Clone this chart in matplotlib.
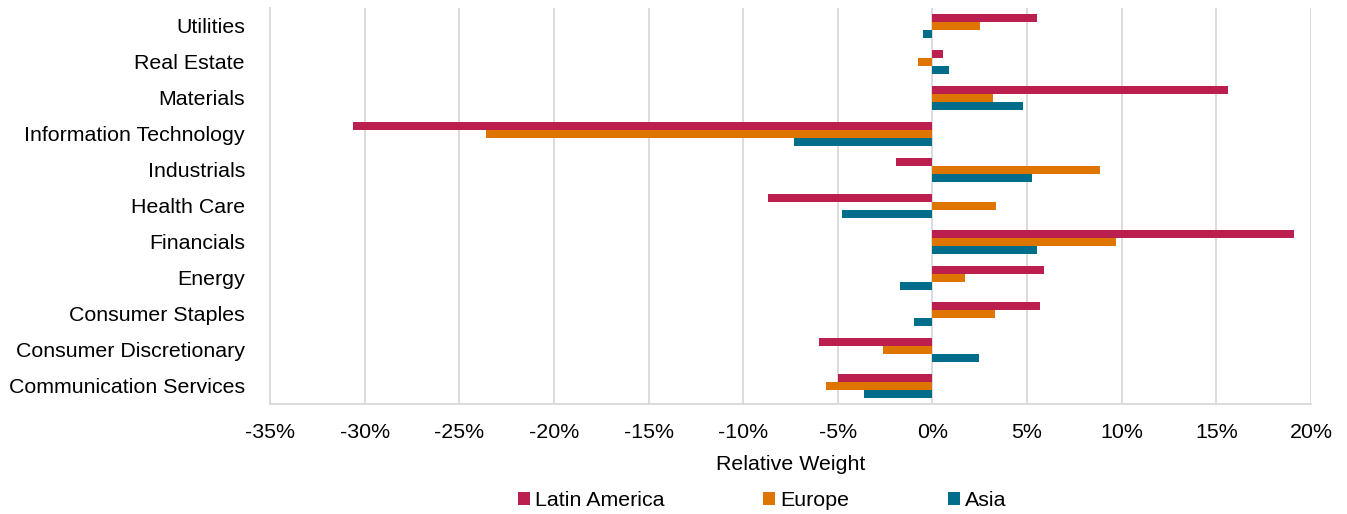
import matplotlib
matplotlib.use("Agg")
import matplotlib.pyplot as plt
import numpy as np
from matplotlib.patches import Patch
from matplotlib.ticker import FuncFormatter

plt.rcParams["font.family"] = ["Liberation Sans", "DejaVu Sans"]

# bottom to top, as drawn
sectors = [
    "Communication Services", "Consumer Discretionary", "Consumer Staples",
    "Energy", "Financials", "Health Care", "Industrials",
    "Information Technology", "Materials", "Real Estate", "Utilities",
]
latin_america = [-5.0, -6.0, 5.7, 5.9, 19.1, -8.7, -1.9, -30.6, 15.6, 0.55, 5.5]
europe = [-5.65, -2.6, 3.3, 1.7, 9.7, 3.35, 8.85, -23.6, 3.2, -0.75, 2.5]
asia = [-3.6, 2.45, -0.95, -1.7, 5.5, -4.8, 5.25, -7.3, 4.8, 0.9, -0.5]

series = ["Latin America", "Europe", "Asia"]
colors = ["#BA1F4F", "#DD7500", "#006E8A"]
fs = 15.4

fig = plt.figure(figsize=(13.47, 5.14), dpi=100)
ax = fig.add_axes([0.2004, 0.214, 0.7729, 0.7706])

y = np.arange(len(sectors))
h = 0.215
for vals, off, col in zip([latin_america, europe, asia], [h, 0, -h], colors):
    ax.barh(y + off, vals, height=h, color=col, zorder=3)

ax.set_xlim(-35, 20)
ax.set_ylim(-0.5, len(sectors) - 0.5)
ax.set_xticks(np.arange(-35, 21, 5))
ax.xaxis.set_major_formatter(FuncFormatter(lambda v, p: f"{v:.0f}%"))
ax.set_yticks(y)
ax.set_yticklabels(sectors)

ax.grid(axis="x", color="#D9D9D9", linewidth=1.3, zorder=0)
ax.tick_params(axis="both", length=0, labelsize=fs, colors="black")
ax.tick_params(axis="y", pad=18)
ax.tick_params(axis="x", pad=14)
for s in ["top", "right"]:
    ax.spines[s].set_visible(False)
for s in ["left", "bottom"]:
    ax.spines[s].set_color("#D9D9D9")
    ax.spines[s].set_linewidth(1.3)

ax.set_xlabel("Relative Weight", fontsize=fs, labelpad=9)

handles = [Patch(facecolor=c, label=s) for s, c in zip(series, colors)]
fig.legend(handles=handles, loc="center", bbox_to_anchor=(0.566, 0.026), ncol=3,
           frameon=False, fontsize=fs, handlelength=0.55, handleheight=0.55,
           handletextpad=0.25, columnspacing=4.6)

fig.savefig("out.png", dpi=100)
